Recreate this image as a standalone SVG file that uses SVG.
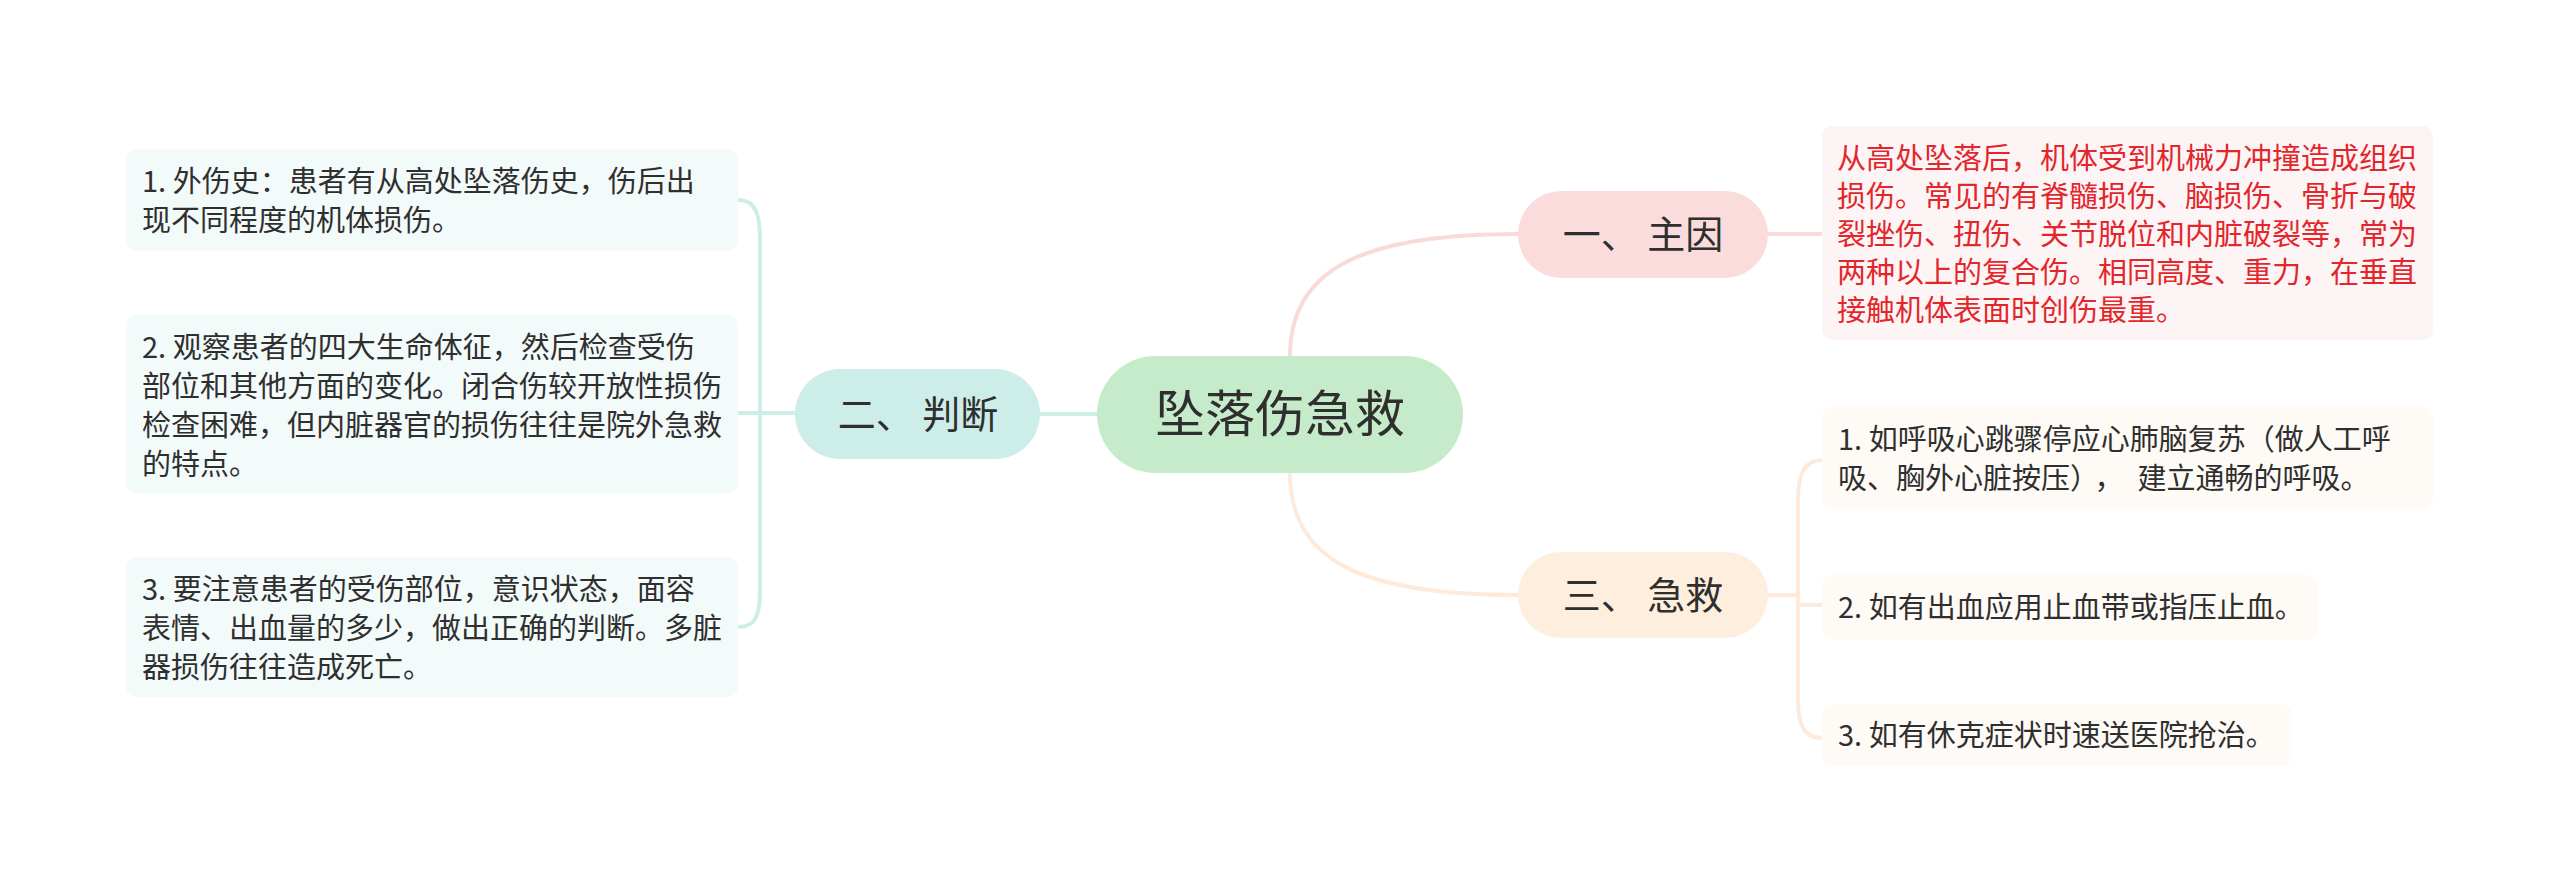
<svg xmlns="http://www.w3.org/2000/svg" width="2560" height="893" viewBox="0 0 2560 893">
<style>
text{font-family:"Noto Sans CJK SC","Noto Sans",sans-serif;fill:#2f2f2f}
.leaf{font-size:29px}
.br{font-size:38px}
.root{font-size:50px}
.red{fill:#e3262b}
.c{fill:none;stroke-width:4;stroke-linecap:round}
</style>
<rect width="2560" height="893" fill="#ffffff"/>
<g id="connectors">
<path class="c" stroke="#f9dada" d="M1290,356 C1290,270 1360,234 1518,234"/>
<path class="c" stroke="#fdeadb" d="M1290,473 C1290,560 1360,595 1518,595"/>
<path class="c" stroke="#cdeee8" d="M1097,414 L1040,414"/>
<path class="c" stroke="#f9dada" d="M1768,234 L1822,234"/>
<path class="c" stroke="#cdeee8" d="M795,413 L760,413 M738,200 C756,200 760,215 760,240 L760,590 C760,615 756,627 738,627 M760,413 L738,413"/>
<path class="c" stroke="#fdeadb" d="M1768,595 L1798,595 M1822,460 C1804,460 1798,475 1798,500 L1798,700 C1798,725 1804,738 1822,738 M1798,605 L1822,605"/>
</g>
<g id="root">
<rect x="1097" y="356" width="366" height="117" rx="58.5" fill="#c6ebcb"/>
<text class="root" x="1280" y="432" text-anchor="middle">坠落伤急救</text>
</g>
<g id="b1">
<rect x="1518" y="191" width="250" height="87" rx="43.5" fill="#fbdcdc"/>
<text class="br" x="1643" y="248" text-anchor="middle">一、 主因</text>
</g>
<g id="b2">
<rect x="795" y="369" width="245" height="90" rx="45" fill="#cdeee8"/>
<text class="br" x="918" y="428" text-anchor="middle">二、 判断</text>
</g>
<g id="b3">
<rect x="1518" y="552" width="250" height="86" rx="43" fill="#fdeedd"/>
<text class="br" x="1643" y="609" text-anchor="middle">三、 急救</text>
</g>
<g id="l1">
<rect x="126" y="149" width="612" height="102" rx="10" fill="#f3fafa"/>
<text class="leaf" x="142" y="192">1. 外伤史：患者有从高处坠落伤史，伤后出</text>
<text class="leaf" x="142" y="231">现不同程度的机体损伤。</text>
</g>
<g id="l2">
<rect x="126" y="315" width="612" height="178" rx="10" fill="#f3fafa"/>
<text class="leaf" x="142" y="358">2. 观察患者的四大生命体征，然后检查受伤</text>
<text class="leaf" x="142" y="397">部位和其他方面的变化。闭合伤较开放性损伤</text>
<text class="leaf" x="142" y="436">检查困难，但内脏器官的损伤往往是院外急救</text>
<text class="leaf" x="142" y="475">的特点。</text>
</g>
<g id="l3">
<rect x="126" y="557" width="612" height="140" rx="10" fill="#f3fafa"/>
<text class="leaf" x="142" y="600">3. 要注意患者的受伤部位，意识状态，面容</text>
<text class="leaf" x="142" y="639">表情、出血量的多少，做出正确的判断。多脏</text>
<text class="leaf" x="142" y="678">器损伤往往造成死亡。</text>
</g>
<g id="r1">
<rect x="1822" y="126" width="611" height="214" rx="10" fill="#fdf5f5"/>
<text class="leaf red" x="1837" y="169">从高处坠落后，机体受到机械力冲撞造成组织</text>
<text class="leaf red" x="1837" y="207">损伤。常见的有脊髓损伤、脑损伤、骨折与破</text>
<text class="leaf red" x="1837" y="245">裂挫伤、扭伤、关节脱位和内脏破裂等，常为</text>
<text class="leaf red" x="1837" y="283">两种以上的复合伤。相同高度、重力，在垂直</text>
<text class="leaf red" x="1837" y="321">接触机体表面时创伤最重。</text>
</g>
<g id="s1">
<rect x="1822" y="407" width="611" height="102" rx="10" fill="#fefaf5"/>
<text class="leaf" x="1838" y="450">1. 如呼吸心跳骤停应心肺脑复苏（做人工呼</text>
<text class="leaf" x="1838" y="489">吸、胸外心脏按压）<tspan dx="10">，</tspan><tspan dx="14">建立通畅的呼吸。</tspan></text>
</g>
<g id="s2">
<rect x="1822" y="575" width="496" height="65" rx="10" fill="#fefaf5"/>
<text class="leaf" x="1838" y="618">2. 如有出血应用止血带或指压止血。</text>
</g>
<g id="s3">
<rect x="1822" y="704" width="470" height="62" rx="10" fill="#fefaf5"/>
<text class="leaf" x="1838" y="746">3. 如有休克症状时速送医院抢治。</text>
</g>
</svg>
